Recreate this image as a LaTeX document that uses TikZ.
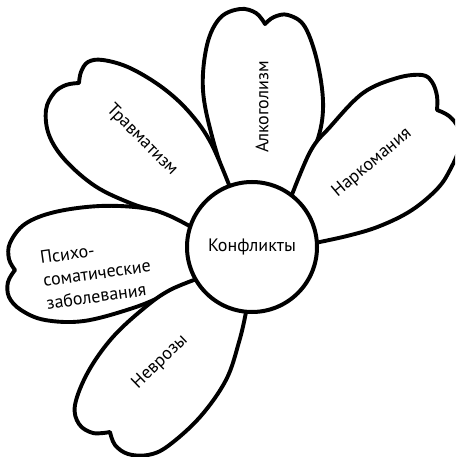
\documentclass[tikz,border=0pt]{standalone}
\usepackage{fontspec}
\setmainfont{PT Sans}
\begin{document}
\begin{tikzpicture}[x=1pt,y=-1pt,
  petal/.style={draw=black, fill=white, line width=3.9pt, line join=round},
  hub/.style={draw=black, fill=white, line width=4pt, circle, minimum size=130pt, inner sep=0pt},
  lbl/.style={font=\fontsize{18}{23}\selectfont, inner sep=0pt, text=black}]
\useasboundingbox (0,0) rectangle (455,457);
\clip (0,0) rectangle (455,457);
% top petal
\draw[petal] plot[smooth, tension=0.6] coordinates {(232,200) (213,140) (203,90) (207,45) (220,18) (240,9) (256,13) (265,24)}
  -- plot[smooth, tension=0.6] coordinates {(265,24) (274,17) (288,15) (305,27) (318,65) (323,110) (314,150) (288,205)} -- cycle;
% right petal
\draw[petal] plot[smooth, tension=0.6] coordinates {(288,205) (310,152) (330,127) (363,93) (397,78) (422,75) (432,82) (437,96) (437,110)}
  -- plot[smooth, tension=0.6] coordinates {(437,110) (449,116) (458,128) (459,148) (451,168) (438,188) (412,210) (380,226) (347,236) (305,245)} -- cycle;
% upper-left petal
\draw[petal] plot[smooth, tension=0.6] coordinates {(235,200) (212,145) (190,113) (163,88) (130,68) (103,60) (88,62) (81,72) (79,83)}
  -- plot[smooth, tension=0.6] coordinates {(79,83) (66,85) (54,93) (46,110) (49,135) (65,160) (95,186) (130,203) (163,214) (200,232)} -- cycle;
% left petal
\draw[petal] plot[smooth, tension=0.6] coordinates {(200,232) (170,216) (143,208) (100,206) (55,212) (25,224) (10,243) (9,259) (15,270)}
  -- plot[smooth, tension=0.6] coordinates {(15,270) (8,282) (9,297) (21,310) (45,320) (84,321) (133,308) (167,294) (205,276)} -- cycle;
% bottom petal
\draw[petal] plot[smooth, tension=0.6] coordinates {(205,276) (170,290) (143,309) (112,338) (88,372) (75,405) (79,424) (93,433) (110,432)}
  -- plot[smooth, tension=0.6] coordinates {(110,432) (115,445) (128,454) (148,455) (168,446) (200,417) (226,380) (239,342) (246,312) (248,295)} -- cycle;
% centre
\node[hub, lbl] (c) at (252,247) {Конфликты};
% labels
\node[lbl, rotate=90] (alc) at (262,107) {Алкоголизм};
\node[lbl, rotate=40] (nark) at (372,163) {Наркомания};
\node[lbl, rotate=-45] (trav) at (142,140) {Травматизм};
\node[lbl, rotate=8, align=left] (psy) at (97,273) {Психо-\\соматические\\заболевания};
\node[lbl, rotate=44] (nevr) at (160,362) {Неврозы};
\end{tikzpicture}
\end{document}
